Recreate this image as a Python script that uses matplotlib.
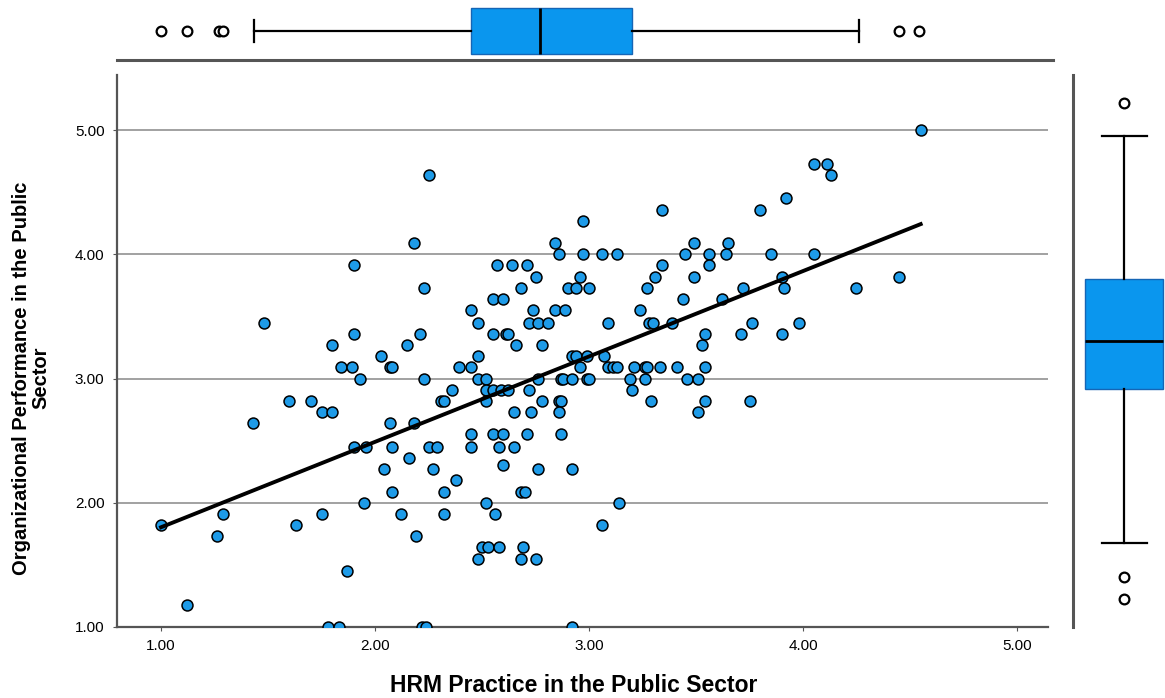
"""
HRM Practice vs Organizational Performance scatter with marginal boxplots
"""

import numpy as np
import matplotlib
matplotlib.use('Agg')
import matplotlib.pyplot as plt
from matplotlib.ticker import FormatStrFormatter

plt.rcParams['font.family'] = ['Liberation Sans', 'DejaVu Sans']

# data, one row per performance level
hrm_practice = [
    4.55,                                                    # 5.00
    4.05, 4.11,                                              # 4.73
    2.25, 4.13,                                              # 4.64
    3.92,                                                    # 4.45
    3.34, 3.80,                                              # 4.36
    2.97,                                                    # 4.27
    2.18, 2.84, 3.49, 3.65,                                  # 4.09
    2.86, 2.97, 3.06, 3.13, 3.45, 3.56, 3.64, 3.85, 4.05,    # 4.00
    1.90, 2.57, 2.64, 2.71, 3.34, 3.56,                      # 3.91
    2.75, 2.96, 3.31, 3.49, 3.90, 4.45,                      # 3.82
    2.23, 2.68, 2.90, 2.94, 3.00, 3.27, 3.72, 3.91, 4.25,    # 3.73
    2.55, 2.60, 3.44, 3.62,                                  # 3.64
    2.45, 2.74, 2.84, 2.89, 3.24,                            # 3.55
    1.48, 2.48, 2.72, 2.76, 2.81, 3.09, 3.28, 3.30, 3.39, 3.76, 3.98,  # 3.45
    1.90, 2.21, 2.55, 2.61, 2.62, 3.54, 3.71, 3.90,          # 3.36
    1.80, 2.15, 2.66, 2.78, 3.53,                            # 3.27
    2.03, 2.48, 2.92, 2.94, 2.99, 3.07,                      # 3.18
    1.84, 1.89, 2.07, 2.08, 2.39, 2.45, 2.96, 3.09, 3.11, 3.13,
    3.21, 3.26, 3.27, 3.33, 3.41, 3.54,                      # 3.09
    1.93, 2.23, 2.48, 2.52, 2.76, 2.87, 2.88, 2.92, 2.99, 3.00,
    3.19, 3.26, 3.46, 3.51,                                  # 3.00
    2.36, 2.52, 2.55, 2.59, 2.62, 2.72, 3.20,                # 2.91
    1.60, 1.70, 2.31, 2.32, 2.52, 2.78, 2.86, 2.87, 3.29, 3.54, 3.75,  # 2.82
    1.75, 1.80, 2.65, 2.73, 2.86, 3.51,                      # 2.73
    1.43, 2.07, 2.18,                                        # 2.64
    2.45, 2.55, 2.60, 2.71, 2.87,                            # 2.55
    1.90, 1.96, 2.08, 2.25, 2.29, 2.45, 2.58, 2.65,          # 2.45
    2.16,                                                    # 2.36
    2.60,                                                    # 2.30
    2.04, 2.27, 2.76, 2.92,                                  # 2.27
    2.38,                                                    # 2.18
    2.08, 2.32, 2.68, 2.70,                                  # 2.09
    1.95, 2.52, 3.14,                                        # 2.00
    1.29, 1.75, 2.12, 2.32, 2.56,                            # 1.91
    1.00, 1.63, 3.06,                                        # 1.82
    1.26, 2.19,                                              # 1.73
    2.50, 2.53, 2.58, 2.69,                                  # 1.64
    2.48, 2.68, 2.75,                                        # 1.55
    1.87,                                                    # 1.45
    1.12,                                                    # 1.18
    1.78, 1.83, 2.22, 2.24, 2.92,                            # 1.00
]

org_performance = (
    [5.00] * 1 + [4.73] * 2 + [4.64] * 2 + [4.45] * 1 + [4.36] * 2 +
    [4.27] * 1 + [4.09] * 4 + [4.00] * 9 + [3.91] * 6 + [3.82] * 6 +
    [3.73] * 9 + [3.64] * 4 + [3.55] * 5 + [3.45] * 11 + [3.36] * 8 +
    [3.27] * 5 + [3.18] * 6 + [3.09] * 16 + [3.00] * 14 + [2.91] * 7 +
    [2.82] * 11 + [2.73] * 6 + [2.64] * 3 + [2.55] * 5 + [2.45] * 8 +
    [2.36] * 1 + [2.30] * 1 + [2.27] * 4 + [2.18] * 1 + [2.09] * 4 +
    [2.00] * 3 + [1.91] * 5 + [1.82] * 3 + [1.73] * 2 + [1.64] * 4 +
    [1.55] * 3 + [1.45] * 1 + [1.18] * 1 + [1.00] * 5
)

# box summaries as drawn in the margins (SPSS hinges)
hrm_box = [1.435, 2.45, 2.77, 3.20, 4.26]            # whislo, q1, med, q3, whishi
hrm_outliers = [1.00, 1.12, 1.27, 1.29, 4.45, 4.54]
perf_box = [1.45, 2.69, 3.08, 3.58, 4.73]
perf_outliers = [1.00, 1.18, 5.00]

tick_values = [1.00, 2.00, 3.00, 4.00, 5.00]

x_label = 'HRM Practice in the Public Sector'
y_label = 'Organizational Performance in the Public\nSector'

BLUE = '#0A96EE'
BOX_EDGE = '#1565B5'
AXIS_GRAY = '#555555'

hrm_practice = np.array(hrm_practice)
org_performance = np.array(org_performance)


def box_stats(five, fliers):
    lo, q1, med, q3, hi = five
    return [dict(whislo=lo, q1=q1, med=med, q3=q3, whishi=hi, fliers=fliers)]


W, H = 1165, 698
fig = plt.figure(figsize=(W / 100, H / 100), dpi=100)

# 主散点图区域 (pixel box -> figure fraction)
L, R, T, B = 117, 1048, 75, 627
ax = fig.add_axes([L / W, 1 - B / H, (R - L) / W, (B - T) / H])

ax.set_xlim(0.794, 5.145)
ax.set_ylim(1.00, 5.443)
for v in tick_values[1:]:
    ax.axhline(v, color='#9a9a9a', linewidth=1.3, zorder=1)

ax.scatter(hrm_practice, org_performance, s=62, facecolor='#1E9BE8',
           edgecolor='black', linewidth=1.1, zorder=3)

# 回归线
slope, intercept = np.polyfit(hrm_practice, org_performance, 1)
fx = np.array([hrm_practice.min(), hrm_practice.max()])
ax.plot(fx, intercept + slope * fx, color='black', linewidth=2.8, zorder=4)

ax.set_xticks(tick_values)
ax.set_yticks(tick_values)
ax.xaxis.set_major_formatter(FormatStrFormatter('%.2f'))
ax.yaxis.set_major_formatter(FormatStrFormatter('%.2f'))
ax.tick_params(axis='both', labelsize=11, length=3, color=AXIS_GRAY, pad=6)
for side in ['top', 'right']:
    ax.spines[side].set_visible(False)
for side in ['left', 'bottom']:
    ax.spines[side].set_color(AXIS_GRAY)
    ax.spines[side].set_linewidth(1.6)

fig.text(574 / W, 1 - 686 / H, x_label, ha='center',
         va='center', fontsize=16.5, fontweight='bold')
fig.text(31 / W, 1 - 378 / H, y_label, ha='center', va='center',
         rotation=90, fontsize=14.5, fontweight='bold', linespacing=1.0)

box_kw = dict(patch_artist=True, showfliers=True,
              boxprops=dict(facecolor=BLUE, edgecolor=BOX_EDGE, linewidth=1),
              medianprops=dict(color='black', linewidth=2),
              whiskerprops=dict(color='black', linewidth=1.6),
              capprops=dict(color='black', linewidth=1.6),
              flierprops=dict(marker='o', markerfacecolor='white',
                              markeredgecolor='black', markersize=7,
                              markeredgewidth=1.6))

# 上方箱线图 (HRM)
axt = fig.add_axes([L / W, 1 - 60 / H, (R - L) / W, 60 / H])
axt.bxp(box_stats(hrm_box, hrm_outliers), orientation='horizontal',
        positions=[0.48], widths=0.77, capwidths=0.37, **box_kw)
axt.set_xlim(ax.get_xlim())
axt.set_ylim(0, 1)
axt.axis('off')
axt.plot([0, 1.005], [0, 0], transform=axt.transAxes, color=AXIS_GRAY,
         linewidth=2.2, clip_on=False)

# 右侧箱线图 (Performance)
RL = 1073
axr = fig.add_axes([RL / W, 1 - B / H, (W - RL) / W, (B - T) / H])
axr.bxp(box_stats(perf_box, perf_outliers), positions=[0.555], widths=0.85,
        capwidths=0.49, **box_kw)
axr.set_xlim(0, 1)
axr.set_ylim(0.774, 5.226)
axr.axis('off')
axr.plot([0, 0], [0, 1], transform=axr.transAxes, color=AXIS_GRAY,
         linewidth=2.2, clip_on=False)

fig.savefig('out.png', dpi=100)
